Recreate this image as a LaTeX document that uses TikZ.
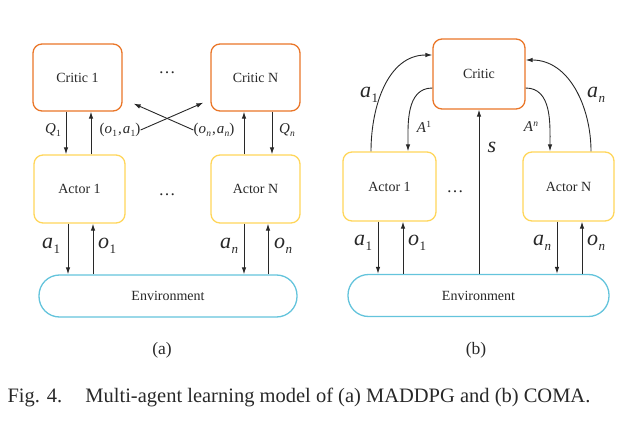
\documentclass[tikz,border=0pt]{standalone}
\usepackage{fontspec}
\setmainfont{Liberation Serif}
\usetikzlibrary{arrows.meta}
\definecolor{critc}{RGB}{234,118,40}
\definecolor{actc}{RGB}{255,214,90}
\definecolor{envc}{RGB}{100,196,220}
\definecolor{inkc}{RGB}{40,40,40}
% big italic label with subscript
\newcommand{\bsub}[2]{\textit{#1}\kern0.5pt\raisebox{-5pt}{\fontsize{13}{13}\selectfont #2}}
% small italic label with subscript / superscript
\newcommand{\ssub}[2]{\textit{#1}\kern0.3pt\raisebox{-3pt}{\fontsize{9.5}{9.5}\selectfont #2}}
\newcommand{\ssup}[2]{\textit{#1}\kern0.3pt\raisebox{5.5pt}{\fontsize{9.5}{9.5}\selectfont #2}}
\tikzset{
  box/.style={draw, line width=1.3pt, rounded corners=9pt, fill=white, inner sep=0pt,
     font=\fontsize{14}{16}\selectfont, text=inkc},
  critic/.style={box, draw=critc},
  actor/.style={box, draw=actc},
  envbox/.style={box, draw=envc, rounded corners=20.5pt},
  conn/.style={draw=inkc, line width=0.9pt, -{Latex[length=7pt,width=4.5pt]}},
  biglbl/.style={font=\fontsize{22}{24}\selectfont, text=inkc, inner sep=0pt},
  smllbl/.style={font=\fontsize{15}{17}\selectfont, text=inkc, inner sep=0pt},
  dots/.style={font=\fontsize{17}{18}\selectfont, text=inkc, inner sep=0pt},
  sublbl/.style={font=\fontsize{17.5}{19}\selectfont, text=inkc, inner sep=0pt},
  capt/.style={font=\fontsize{20.5}{23}\selectfont, text=inkc, inner sep=0pt}
}
\begin{document}
\begin{tikzpicture}[x=1pt,y=-1pt]
\useasboundingbox (0,0) rectangle (631,430);
% ---------- (a) ----------
\node[critic, minimum width=89pt, minimum height=67pt] (C1) at (77.5,77.5) {Critic 1};
\node[critic, minimum width=89pt, minimum height=67pt] (CN) at (255.5,77.5) {Critic N};
\node[actor, minimum width=91pt, minimum height=68pt] (A1) at (79.5,189) {Actor 1};
\node[actor, minimum width=89pt, minimum height=68pt] (AN) at (255.5,189) {Actor N};
\node[envbox, minimum width=258pt, minimum height=42pt] (E) at (168,296) {Environment};
\node[dots] (d1) at (167,73) {…};
\node[dots] (d2) at (167,195) {…};
% critic-actor arrows
\draw[conn] (C1.south -| 66,0) -- (A1.north -| 66,0);
\draw[conn] (A1.north -| 91,0) -- (C1.south -| 91,0);
\draw[conn] (AN.north -| 244,0) -- (CN.south -| 244,0);
\draw[conn] (CN.south -| 272,0) -- (AN.north -| 272,0);
\node[smllbl] (q1) at (53,130) {\ssub{Q}{1}};
\node[smllbl] (oa1) at (120,130) {(\ssub{o}{1}\kern1pt,\kern1pt\ssub{a}{1})};
\node[smllbl] (oan) at (214,130) {(\ssub{o}{\textit{n}}\kern1pt,\kern1pt\ssub{a}{\textit{n}})};
\node[smllbl] (qn) at (287,130) {\ssub{Q}{\textit{n}}};
\draw[conn] (oa1.east) -- ([shift={(-7,-9)}]CN.south west);
\draw[conn] (oan.west) -- ([shift={(11,-8)}]C1.south east);
% actor-env arrows
\draw[conn] (A1.south -| 68,0) -- (E.north -| 68,0);
\draw[conn] (E.north -| 93,0) -- (A1.south -| 93,0);
\draw[conn] (AN.south -| 244,0) -- (E.north -| 244,0);
\draw[conn] (E.north -| 268,0) -- (AN.south -| 268,0);
\node[biglbl] (la1) at (51,246) {\bsub{a}{1}};
\node[biglbl] (lo1) at (107,246) {\bsub{o}{1}};
\node[biglbl] (lan) at (229,246) {\bsub{a}{\textit{n}}};
\node[biglbl] (lon) at (283,246) {\bsub{o}{\textit{n}}};
\node[sublbl] (capa) at (162,350) {(a)};
% ---------- (b) ----------
\node[critic, minimum width=92pt, minimum height=70pt] (C) at (479,74) {Critic};
\node[actor, minimum width=93pt, minimum height=69pt] (B1) at (389.5,186.5) {Actor 1};
\node[actor, minimum width=91pt, minimum height=69pt] (BN) at (568.5,186.5) {Actor N};
\node[envbox, minimum width=261pt, minimum height=42pt] (F) at (478.5,295.5) {Environment};
\node[dots] (d3) at (455,192) {…};
\draw[conn] (B1.north -| 371,0) to[out=90,in=180] (C.west |- 0,55);
\draw[conn] (C.west |- 0,88) to[out=180,in=90] (B1.north -| 408,0);
\draw[conn] (C.east |- 0,88) to[out=0,in=90] (BN.north -| 550,0);
\draw[conn] (BN.north -| 591,0) to[out=90,in=0] (C.east |- 0,60);
\draw[conn] (F.north -| 479,0) -- (C.south);
\node[biglbl] (lb1) at (369,95) {\bsub{a}{1}};
\node[smllbl] (lA1) at (424,127) {\ssup{A}{1}};
\node[biglbl] (ls) at (492,147) {\textit{s}};
\node[smllbl] (lAn) at (531,127) {\ssup{A}{\textit{n}}};
\node[biglbl] (lbn) at (596,95) {\bsub{a}{\textit{n}}};
\draw[conn] (B1.south -| 378,0) -- (F.north -| 378,0);
\draw[conn] (F.north -| 403,0) -- (B1.south -| 403,0);
\draw[conn] (BN.south -| 557,0) -- (F.north -| 557,0);
\draw[conn] (F.north -| 582,0) -- (BN.south -| 582,0);
\node[biglbl] (lb1b) at (363,243) {\bsub{a}{1}};
\node[biglbl] (lo1b) at (417,243) {\bsub{o}{1}};
\node[biglbl] (lbnb) at (542,243) {\bsub{a}{\textit{n}}};
\node[biglbl] (lonb) at (596,243) {\bsub{o}{\textit{n}}};
\node[sublbl] (capb) at (476,350) {(b)};
% caption
\node[capt, anchor=west] (cap) at (7.3,397) {Fig. 4.\hspace{0.8em} Multi-agent learning model of (a) MADDPG and (b) COMA.};
\end{tikzpicture}
\end{document}
